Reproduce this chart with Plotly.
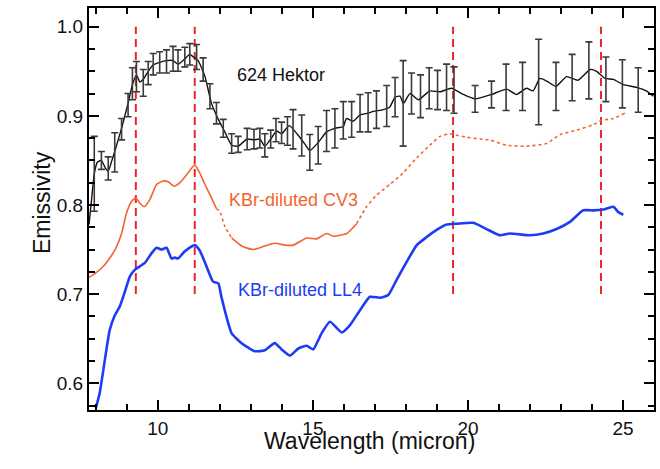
import plotly.graph_objects as go

# ---------------------------------------------------------------
# 624 Hektor: sampled emissivity with 1-sigma uncertainties
# ---------------------------------------------------------------
hektor_wl = [7.95, 8.18, 8.40, 8.61, 8.83, 9.04, 9.18, 9.31, 9.53, 9.69,
             9.85, 10.06, 10.28, 10.49, 10.65, 10.87, 11.03, 11.25, 11.46, 11.68,
             11.89, 12.11, 12.38, 12.59, 12.88, 13.10, 13.29, 13.45, 13.64, 13.81,
             13.99, 14.18, 14.36, 14.64, 14.90, 15.17, 15.44, 15.71, 15.98, 16.25,
             16.52, 16.78, 17.05, 17.38, 17.65, 17.91, 18.18, 18.47, 18.75, 19.02,
             19.31, 19.55, 20.23, 20.76, 21.23, 21.76, 22.28, 22.84, 23.36, 23.90,
             24.45, 24.98, 25.49]
hektor_em = [0.835, 0.850, 0.841, 0.859, 0.885, 0.912, 0.936, 0.944, 0.937, 0.948,
             0.958, 0.960, 0.961, 0.964, 0.962, 0.966, 0.969, 0.966, 0.952, 0.922,
             0.903, 0.886, 0.869, 0.868, 0.874, 0.874, 0.875, 0.867, 0.874, 0.884,
             0.881, 0.883, 0.885, 0.878, 0.859, 0.867, 0.883, 0.886, 0.895, 0.896,
             0.903, 0.904, 0.907, 0.911, 0.921, 0.914, 0.925, 0.922, 0.931, 0.929,
             0.932, 0.929, 0.919, 0.924, 0.932, 0.933, 0.938, 0.933, 0.943, 0.951,
             0.941, 0.936, 0.929]
hektor_err = [0.042, 0.010, 0.013, 0.022, 0.012, 0.013, 0.018, 0.017, 0.015, 0.013,
              0.012, 0.012, 0.013, 0.014, 0.012, 0.011, 0.012, 0.014, 0.013, 0.014,
              0.012, 0.010, 0.011, 0.009, 0.012, 0.011, 0.011, 0.013, 0.010, 0.013,
              0.012, 0.016, 0.022, 0.023, 0.020, 0.021, 0.023, 0.022, 0.021, 0.020,
              0.021, 0.022, 0.021, 0.023, 0.022, 0.048, 0.023, 0.024, 0.023, 0.022,
              0.026, 0.026, 0.015, 0.015, 0.026, 0.027, 0.048, 0.027, 0.026, 0.032,
              0.025, 0.027, 0.025]

# 624 Hektor: full-resolution spectrum line
hektor_line_wl = [7.78, 7.88, 7.95, 8.05, 8.18, 8.30, 8.40, 8.50, 8.61, 8.72,
                  8.83, 8.95, 9.04, 9.18, 9.31, 9.42, 9.53, 9.69, 9.85, 10.06,
                  10.28, 10.49, 10.65, 10.87, 11.03, 11.15, 11.30, 11.52, 11.73, 11.95,
                  12.16, 12.38, 12.59, 12.88, 13.10, 13.29, 13.45, 13.64, 13.83, 13.99,
                  14.24, 14.53, 14.75, 14.90, 15.17, 15.44, 15.71, 15.98, 16.08, 16.30,
                  16.52, 16.78, 16.95, 17.27, 17.48, 17.65, 17.81, 17.92, 18.13, 18.40,
                  18.77, 19.10, 19.47, 19.85, 20.23, 20.76, 21.25, 21.57, 21.89, 22.10,
                  22.32, 22.54, 22.84, 23.18, 23.55, 23.94, 24.15, 24.42, 24.69, 25.01,
                  25.44, 25.75, 25.98]
hektor_line_em = [0.778, 0.812, 0.835, 0.848, 0.850, 0.842, 0.838, 0.848, 0.860, 0.873,
                  0.886, 0.902, 0.914, 0.935, 0.946, 0.938, 0.941, 0.950, 0.957, 0.960,
                  0.962, 0.962, 0.958, 0.964, 0.969, 0.966, 0.962, 0.944, 0.914, 0.896,
                  0.882, 0.867, 0.866, 0.874, 0.873, 0.874, 0.866, 0.874, 0.883, 0.880,
                  0.889, 0.878, 0.868, 0.861, 0.870, 0.882, 0.886, 0.888, 0.897, 0.894,
                  0.901, 0.903, 0.905, 0.907, 0.910, 0.921, 0.922, 0.914, 0.925, 0.918,
                  0.928, 0.927, 0.931, 0.924, 0.919, 0.924, 0.930, 0.924, 0.931, 0.928,
                  0.942, 0.939, 0.933, 0.944, 0.940, 0.952, 0.950, 0.942, 0.941, 0.935,
                  0.932, 0.928, 0.922]

# ---------------------------------------------------------------
# Laboratory spectra of KBr-diluted meteorite powders
# ---------------------------------------------------------------
cv3_wl = [7.78, 7.97, 8.29, 8.61, 8.83, 8.99, 9.15, 9.28, 9.42, 9.56,
          9.74, 9.96, 10.17, 10.33, 10.53, 10.71, 10.93, 11.19, 11.35, 11.52,
          11.73, 11.89, 12.00, 12.16, 12.38, 12.70, 13.07, 13.45, 13.77, 14.10,
          14.37, 14.80, 15.12, 15.44, 15.66, 16.09, 16.41, 16.73, 17.05, 17.48,
          17.91, 18.35, 18.77, 19.10, 19.42, 19.53, 19.96, 20.39, 20.71, 21.25,
          21.89, 22.54, 22.97, 23.51, 24.04, 24.31, 24.69, 25.06]
cv3_em = [0.719, 0.723, 0.733, 0.749, 0.768, 0.791, 0.804, 0.808, 0.802, 0.798,
          0.806, 0.823, 0.827, 0.826, 0.821, 0.825, 0.834, 0.845, 0.836, 0.823,
          0.808, 0.796, 0.793, 0.776, 0.763, 0.754, 0.750, 0.754, 0.757, 0.755,
          0.755, 0.763, 0.762, 0.768, 0.765, 0.768, 0.779, 0.798, 0.811, 0.823,
          0.836, 0.853, 0.867, 0.877, 0.880, 0.879, 0.876, 0.874, 0.873, 0.867,
          0.866, 0.869, 0.879, 0.884, 0.890, 0.895, 0.897, 0.903]

ll4_wl = [8.00, 8.13, 8.29, 8.45, 8.61, 8.77, 8.94, 9.10, 9.28, 9.58,
          9.80, 9.96, 10.12, 10.28, 10.44, 10.55, 10.65, 10.87, 11.19, 11.35,
          11.57, 11.78, 11.95, 12.05, 12.21, 12.38, 12.70, 13.13, 13.45, 13.77,
          13.99, 14.26, 14.53, 14.80, 15.01, 15.28, 15.55, 15.93, 16.19, 16.52,
          16.84, 17.16, 17.43, 17.70, 18.02, 18.35, 18.67, 18.99, 19.31, 19.64,
          20.17, 20.60, 21.03, 21.35, 22.00, 22.43, 22.86, 23.29, 23.72, 24.04,
          24.37, 24.69, 24.85, 25.01]
ll4_em = [0.572, 0.590, 0.626, 0.660, 0.676, 0.686, 0.703, 0.720, 0.728, 0.735,
          0.746, 0.752, 0.750, 0.752, 0.740, 0.741, 0.740, 0.748, 0.755, 0.749,
          0.731, 0.714, 0.712, 0.697, 0.675, 0.656, 0.645, 0.636, 0.637, 0.645,
          0.638, 0.631, 0.639, 0.642, 0.638, 0.656, 0.669, 0.657, 0.665, 0.682,
          0.697, 0.696, 0.699, 0.716, 0.736, 0.755, 0.764, 0.772, 0.778, 0.779,
          0.780, 0.773, 0.766, 0.768, 0.766, 0.768, 0.773, 0.781, 0.794, 0.794,
          0.795, 0.798, 0.792, 0.789]

# Wavelengths of the marked spectral features
feature_wl = [9.29, 11.19, 19.52, 24.29]
feature_span = [0.70, 1.0]

FONT = "Liberation Sans"
BLACK = "#111111"
ORANGE = "#f2642f"
BLUE = "#1c3cf5"
RED = "#e8262c"

fig = go.Figure()

# feature markers (vertical dashed lines)
for wl in feature_wl:
    fig.add_trace(go.Scatter(
        x=[wl, wl], y=feature_span, mode="lines",
        line=dict(color=RED, width=2, dash="8px,5px"),
        hoverinfo="skip", showlegend=False))

# CV3 spectrum: solid where densely sampled, dotted elsewhere
def segment(xs, ys, lo, hi):
    pts = [(a, b) for a, b in zip(xs, ys) if lo <= a <= hi]
    return [p[0] for p in pts], [p[1] for p in pts]

for lo, hi, dash in [(0, 11.89, "solid"), (11.89, 12.38, "dot"),
                     (12.38, 16.41, "solid"), (16.41, 30, "dot")]:
    sx, sy = segment(cv3_wl, cv3_em, lo, hi)
    fig.add_trace(go.Scatter(
        x=sx, y=sy, mode="lines",
        line=dict(color=ORANGE, width=1.6, dash=dash, shape="spline", smoothing=0.5),
        hoverinfo="skip", showlegend=False))

# LL4 spectrum
fig.add_trace(go.Scatter(
    x=ll4_wl, y=ll4_em, mode="lines",
    line=dict(color=BLUE, width=2.6, shape="spline", smoothing=0.5),
    showlegend=False))

# Hektor spectrum line
fig.add_trace(go.Scatter(
    x=hektor_line_wl, y=hektor_line_em, mode="lines",
    line=dict(color=BLACK, width=1.4, shape="spline", smoothing=0.5),
    showlegend=False))

# Hektor error bars
fig.add_trace(go.Scatter(
    x=hektor_wl, y=hektor_em, mode="markers",
    marker=dict(size=1, color=BLACK, opacity=0),
    error_y=dict(type="data", array=hektor_err, visible=True,
                 color="#3a3a3a", thickness=1.6, width=3.5),
    showlegend=False))

# curve labels
fig.add_annotation(x=13.98, y=0.946, text="624 Hektor", showarrow=False,
                   font=dict(family=FONT, size=18, color=BLACK))
fig.add_annotation(x=14.39, y=0.8056, text="KBr-diluted CV3", showarrow=False,
                   font=dict(family=FONT, size=18, color=ORANGE))
fig.add_annotation(x=14.58, y=0.7045, text="KBr-diluted LL4", showarrow=False,
                   font=dict(family=FONT, size=18, color=BLUE))

# axis titles placed in paper coordinates (fixed margins)
fig.add_annotation(xref="paper", yref="paper", x=0.497, y=-0.114,
                   text="Wavelength (micron)", showarrow=False,
                   font=dict(family=FONT, size=23, color=BLACK))
fig.add_annotation(xref="paper", yref="paper", x=-0.1097, y=0.515,
                   text="Emissivity", textangle=-90, showarrow=False,
                   font=dict(family=FONT, size=23, color=BLACK))

fig.update_layout(
    width=660, height=469,
    margin=dict(l=89, r=6, t=8, b=59),
    paper_bgcolor="white", plot_bgcolor="white",
    xaxis=dict(
        range=[7.78, 26.0], dtick=5, automargin=False,
        showline=True, linewidth=2, linecolor="black", mirror="allticks",
        ticks="inside", ticklen=10, tickwidth=2, tickcolor="black",
        minor=dict(dtick=1, ticks="inside", ticklen=6, tickcolor="black"),
        showgrid=False, zeroline=False,
        tickfont=dict(family=FONT, size=19, color=BLACK),
    ),
    yaxis=dict(
        range=[0.570, 1.021], dtick=0.1, tickformat=".1f", automargin=False,
        showline=True, linewidth=2, linecolor="black", mirror="allticks",
        ticks="inside", ticklen=10, tickwidth=2, tickcolor="black",
        minor=dict(dtick=0.025, ticks="inside", ticklen=6, tickcolor="black"),
        showgrid=False, zeroline=False,
        tickfont=dict(family=FONT, size=19, color=BLACK),
    ),
)

fig.write_html("out.html")
